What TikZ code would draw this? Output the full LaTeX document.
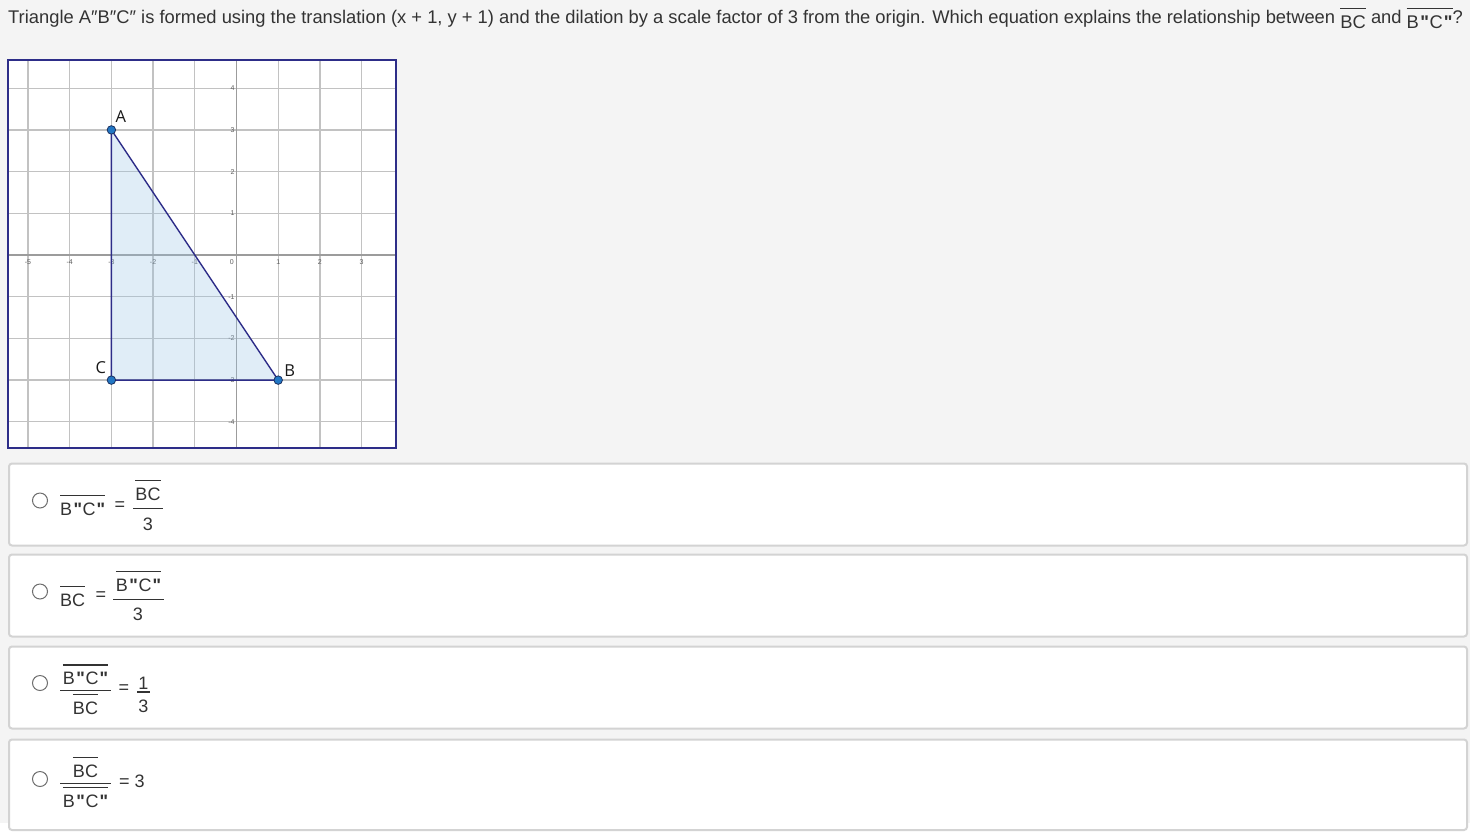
\documentclass[tikz,border=0pt]{standalone}
\usepackage{fontspec}
\setmainfont{Liberation Sans}
\newfontfamily\ansfont{Liberation Sans}
\newfontfamily\vfont{Open Sans}

\definecolor{pagegray}{HTML}{F4F4F4}
\definecolor{ink}{HTML}{333333}
\definecolor{boxline}{HTML}{D3D3D3}
\definecolor{radioline}{HTML}{6E6E6E}
\definecolor{gridgray}{HTML}{C2C2C2}
\definecolor{axisgray}{HTML}{9C9C9C}
\definecolor{tickgray}{HTML}{5E5E5E}
\definecolor{navy}{HTML}{2D2D88}
\definecolor{trifill}{HTML}{99C4E6}
\definecolor{dotblue}{HTML}{2277C4}
\definecolor{dotline}{HTML}{1B2F5E}

% overlined segment name
\newcommand{\ovl}[1]{\vbox{\hrule height 1.4pt\kern 6.2pt\hbox{#1}}}
% straight double quote of the answer texts
\newcommand{\dq}{\textbf{"}}
\newcommand{\bcpp}{B\kern1.5pt\dq\kern0.5pt C\kern1pt\dq}

\begin{document}
\begin{tikzpicture}[x=1pt,y=-1pt,
    txt/.style ={font=\ansfont\fontsize{18}{21}\selectfont, text=ink, inner sep=0pt},
    choice/.style ={draw=boxline, line width=2pt, fill=white, rounded corners=3pt},
    radio/.style ={circle, draw=radioline, fill=white, line width=1pt, minimum size=15pt, inner sep=0pt},
    bar/.style ={draw=ink, line width=1.3pt},
    gridline/.style ={draw=gridgray, line width=1.3pt},
    axisline/.style ={draw=axisgray, line width=1.3pt},
    tick/.style ={font=\fontsize{7}{8}\selectfont, text=tickgray, inner sep=0pt},
    vertex/.style ={circle, draw=dotline, fill=dotblue, line width=0.8pt, minimum size=8.5pt, inner sep=0pt},
    vlabel/.style ={font=\vfont\fontsize{16.5}{18}\selectfont, text=black!90, inner sep=0pt}]
   \fill[pagegray] (0,0) rectangle (1470,823);

   % question
   \node[txt, font=\ansfont\fontsize{18.35}{21}\selectfont, anchor=base west] (question) at (8,23.5)
     {Triangle A″B″C″ is formed using the translation (x + 1, y + 1) and the dilation by a scale factor of 3 from the origin. Which equation explains the relationship between \raisebox{-4.5pt}{\ovl{BC}} and \raisebox{-4.5pt}{\ovl{\bcpp}}?};

   % graph
   \fill[white] (8,60) rectangle (396,448);
   \begin{scope}
   \clip (8,60) rectangle (396,448);
   \begin{scope}[shift={(236.5,255)}, x=41.7pt, y=41.7pt]
     \foreach \i in {-5,...,3}
       \draw[gridline] (\i,-5) -- (\i,5);
     \foreach \j in {-4,...,4}
       \draw[gridline] (-6,\j) -- (4,\j);
     \draw[axisline] (0,-5) -- (0,5);
     \draw[axisline] (-6,0) -- (4,0);
     \foreach \i in {-5,-4,-3,-2,-1,1,2,3}
       \node[tick, anchor=north] (xt\i) at (\i,-0.1) {\i};
     \node[tick, anchor=north east] (xt0) at (-0.06,-0.1) {0};
     \foreach \j in {-4,-3,-2,-1,1,2,3,4}
       \node[tick, anchor=east] (yt\j) at (-0.04,\j) {\j};

     \coordinate (A) at (-3,3);
     \coordinate (B) at (1,-3);
     \coordinate (C) at (-3,-3);
     \fill[trifill, fill opacity=0.3] (A) -- (B) -- (C) -- cycle;
     \draw[navy, line width=1.4pt, line join=round] (A) -- (B) -- (C) -- cycle;
     \node[vertex] (dotA) at (A) {};
     \node[vertex] (dotB) at (B) {};
     \node[vertex] (dotC) at (C) {};
     \node[vlabel] (labA) at ([shift={(9.5pt,13pt)}]A) {A};
     \node[vlabel] (labB) at ([shift={(11.5pt,9pt)}]B) {B};
     \node[vlabel] (labC) at ([shift={(-10.5pt,13pt)}]C) {C};
   \end{scope}
   \end{scope}
   \draw[navy, line width=2.4pt] (8,60) rectangle (396,448);

   % answer boxes
   \draw[choice] (9,463.5) rectangle (1467,545.5);
   \draw[choice] (9,554.5) rectangle (1467,636.5);
   \draw[choice] (9,646.5) rectangle (1467,728.5);
   \draw[choice] (9,739.5) rectangle (1467,830);

   % choice 1
   \node[radio] (r1) at (40,500.5) {};
   \node[txt, anchor=base west] (c1left) at (60,515) {\ovl{\bcpp}};
   \node[txt, anchor=base] (c1eq) at (120,510) {=};
   \node[txt, anchor=base] (c1num) at (148,500) {\ovl{BC}};
   \draw[bar] (133,508.3) -- (163,508.3);
   \node[txt, anchor=base] (c1den) at (148,530) {3};

   % choice 2
   \node[radio] (r2) at (40,591.5) {};
   \node[txt, anchor=base west] (c2left) at (60,606) {\ovl{BC}};
   \node[txt, anchor=base] (c2eq) at (101,600) {=};
   \node[txt, anchor=base] (c2num) at (138.5,591) {\ovl{\bcpp}};
   \draw[bar] (113,599.5) -- (164,599.5);
   \node[txt, anchor=base] (c2den) at (138,620) {3};

   % choice 3
   \node[radio] (r3) at (40,683) {};
   \node[txt, anchor=base] (c3num) at (85.5,684.5) {\ovl{\bcpp}};
   \draw[bar] (60,690.5) -- (111,690.5);
   \node[txt, anchor=base] (c3den) at (85.5,714) {\ovl{BC}};
   \node[txt, anchor=base] (c3eq) at (124,693) {=};
   \node[txt, anchor=base] (c3one) at (143.5,689.5) {1};
   \draw[bar] (137,692) -- (150,692);
   \node[txt, anchor=base] (c3three) at (143.5,712) {3};

   % choice 4
   \node[radio] (r4) at (40,779) {};
   \node[txt, anchor=base] (c4num) at (85.5,777) {\ovl{BC}};
   \draw[bar] (60,783.5) -- (111,783.5);
   \node[txt, anchor=base] (c4den) at (85.5,807) {\ovl{\bcpp}};
   \node[txt, anchor=base west] (c4right) at (119,787) {= 3};
 \end{tikzpicture}
\end{document}
